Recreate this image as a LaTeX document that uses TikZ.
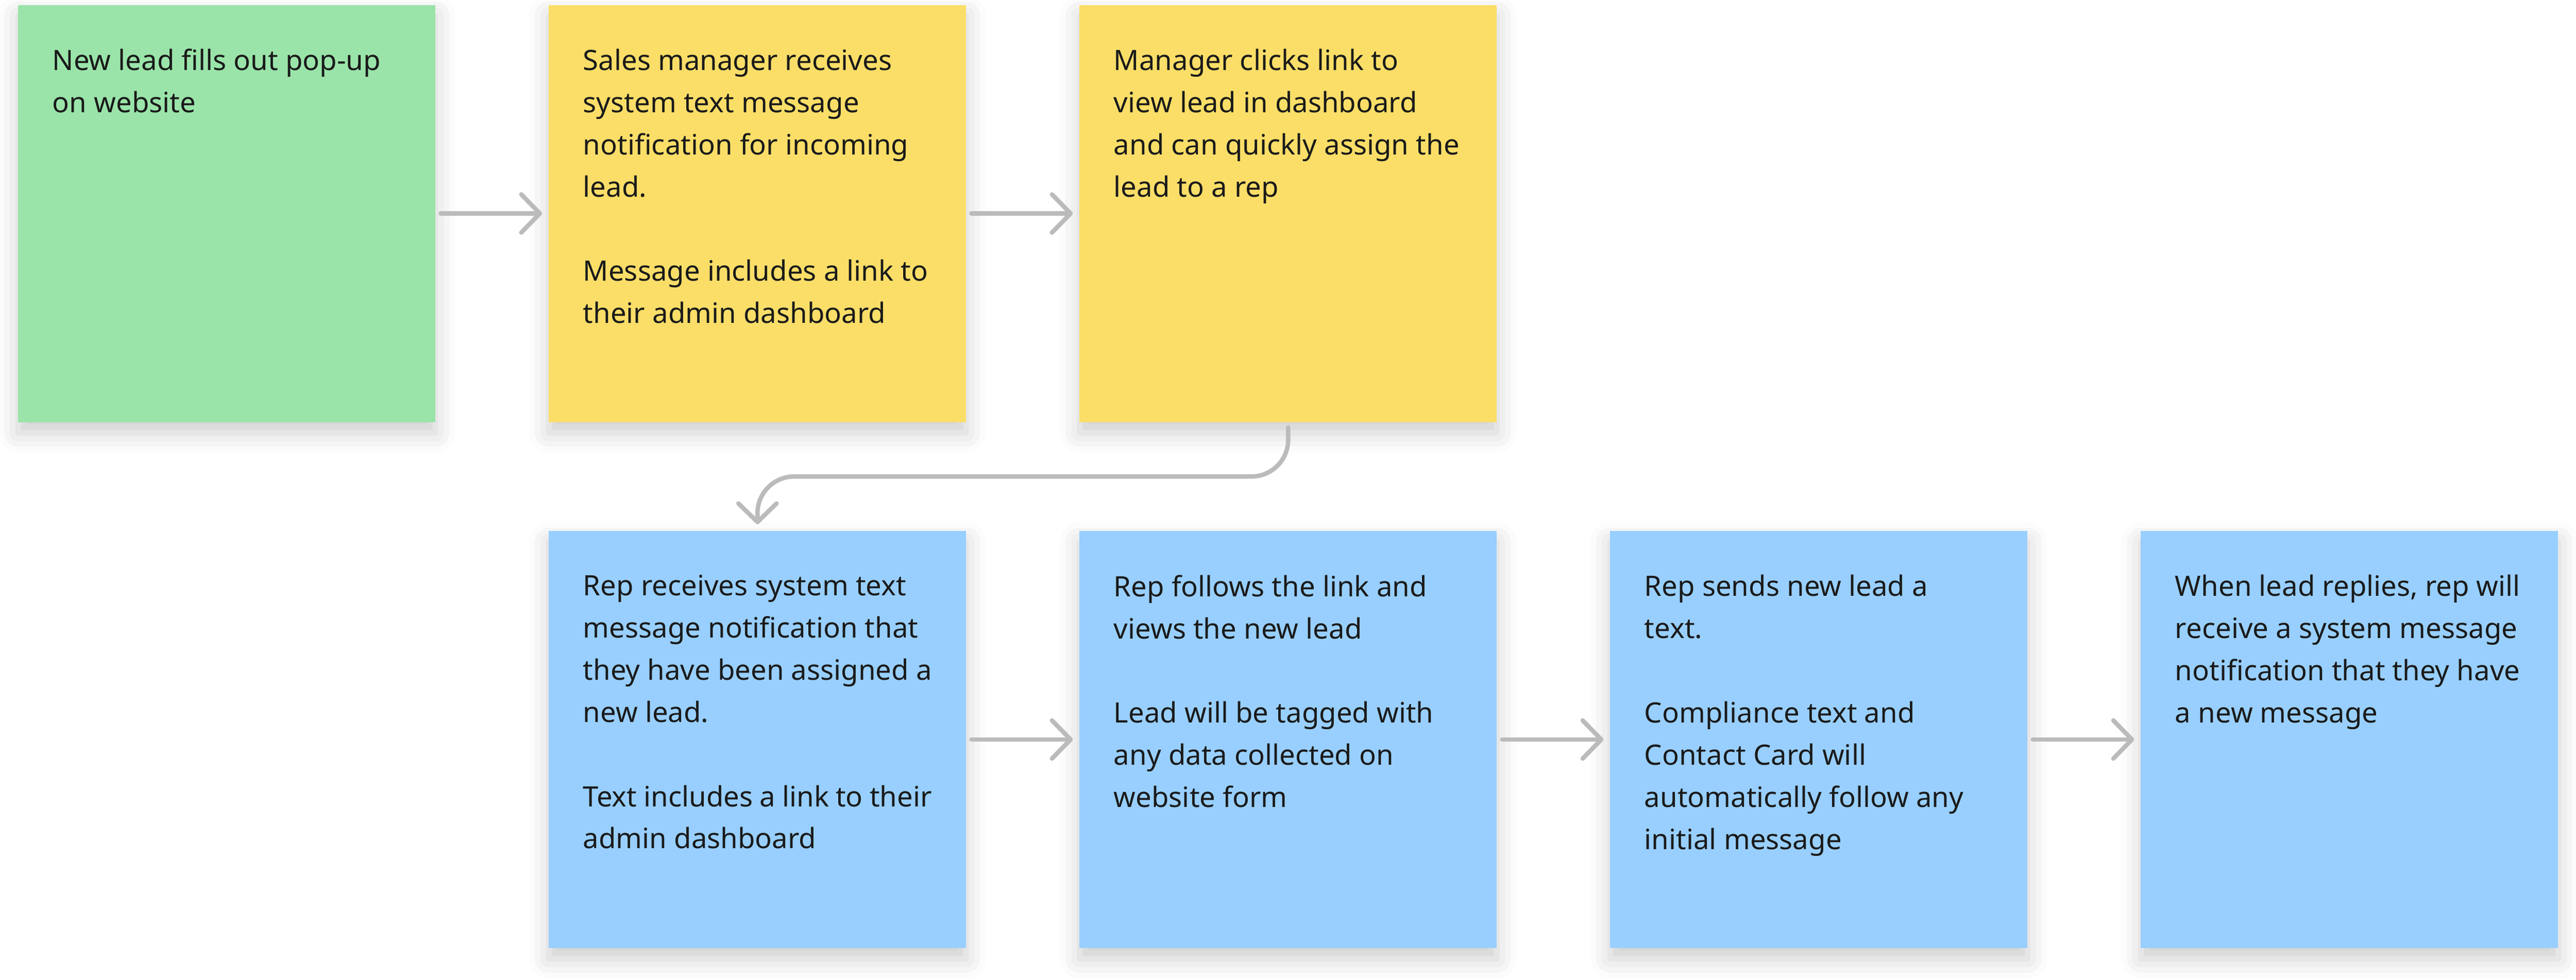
\documentclass[tikz,border=0pt]{standalone}
\usepackage{fontspec}
\setmainfont{Noto Sans}
\usetikzlibrary{positioning,calc,arrows.meta,shadows.blur}
\definecolor{stickygreen}{HTML}{9AE4A9}
\definecolor{stickyyellow}{HTML}{FADE68}
\definecolor{stickyblue}{HTML}{98CFFE}
\definecolor{arrowgray}{HTML}{BBBBBB}
\definecolor{ink}{HTML}{1A1A1A}
\newcommand{\notetext}[1]{\parbox[c][6.72cm][t]{7.12cm}{\raggedright #1}}
\tikzset{
  sticky/.style={fill=#1, minimum width=8.52cm, minimum height=8.52cm,
    inner xsep=0.7cm, inner ysep=0.9cm, text=ink,
    font=\fontsize{16.3pt}{24.5pt}\selectfont,
    blur shadow={shadow xshift=0cm, shadow yshift=-0.22cm,
      shadow blur radius=0.4cm, shadow opacity=20}},
  flow/.style={line width=0.09cm, arrowgray, line cap=round,
    -{Straight Barb[length=0.38cm, width=0.78cm, round]},
    shorten <=0.1cm, shorten >=0.13cm}
}
\begin{document}
\begin{tikzpicture}
        \useasboundingbox (0,0) rectangle (52.59,-20.01);
        \node[sticky=stickygreen] (N) at (4.63,-4.36) {\notetext{New lead fills out pop-up\\on website}};
        \node[sticky=stickyyellow, right=2.3cm of N] (S) {\notetext{Sales manager receives\\system text message\\notification for incoming\\lead.\\[24.5pt]Message includes a link to\\their admin dashboard}};
        \node[sticky=stickyyellow, right=2.3cm of S] (M) {\notetext{Manager clicks link to\\view lead in dashboard\\and can quickly assign the\\lead to a rep}};
        \node[sticky=stickyblue, below=2.21cm of S] (R) {\notetext{Rep receives system text\\message notification that\\they have been assigned a\\new lead.\\[24.5pt]Text includes a link to their\\admin dashboard}};
        \node[sticky=stickyblue, right=2.3cm of R] (F) {\notetext{Rep follows the link and\\views the new lead\\[24.5pt]Lead will be tagged with\\any data collected on\\website form}};
        \node[sticky=stickyblue, right=2.3cm of F] (T) {\notetext{Rep sends new lead a\\text.\\[24.5pt]Compliance text and\\Contact Card will\\automatically follow any\\initial message}};
        \node[sticky=stickyblue, right=2.3cm of T] (W) {\notetext{When lead replies, rep will\\receive a system message\\notification that they have\\a new message}};
        \coordinate (bend) at ($(M.south)!0.5!(R.north)$);
        \draw[flow] (N) -- (S);
        \draw[flow] (S) -- (M);
        \draw[flow, rounded corners=0.75cm] (M.south) |- (bend) -| (R.north);
        \draw[flow] (R) -- (F);
        \draw[flow] (F) -- (T);
        \draw[flow] (T) -- (W);
    \end{tikzpicture}
\end{document}
